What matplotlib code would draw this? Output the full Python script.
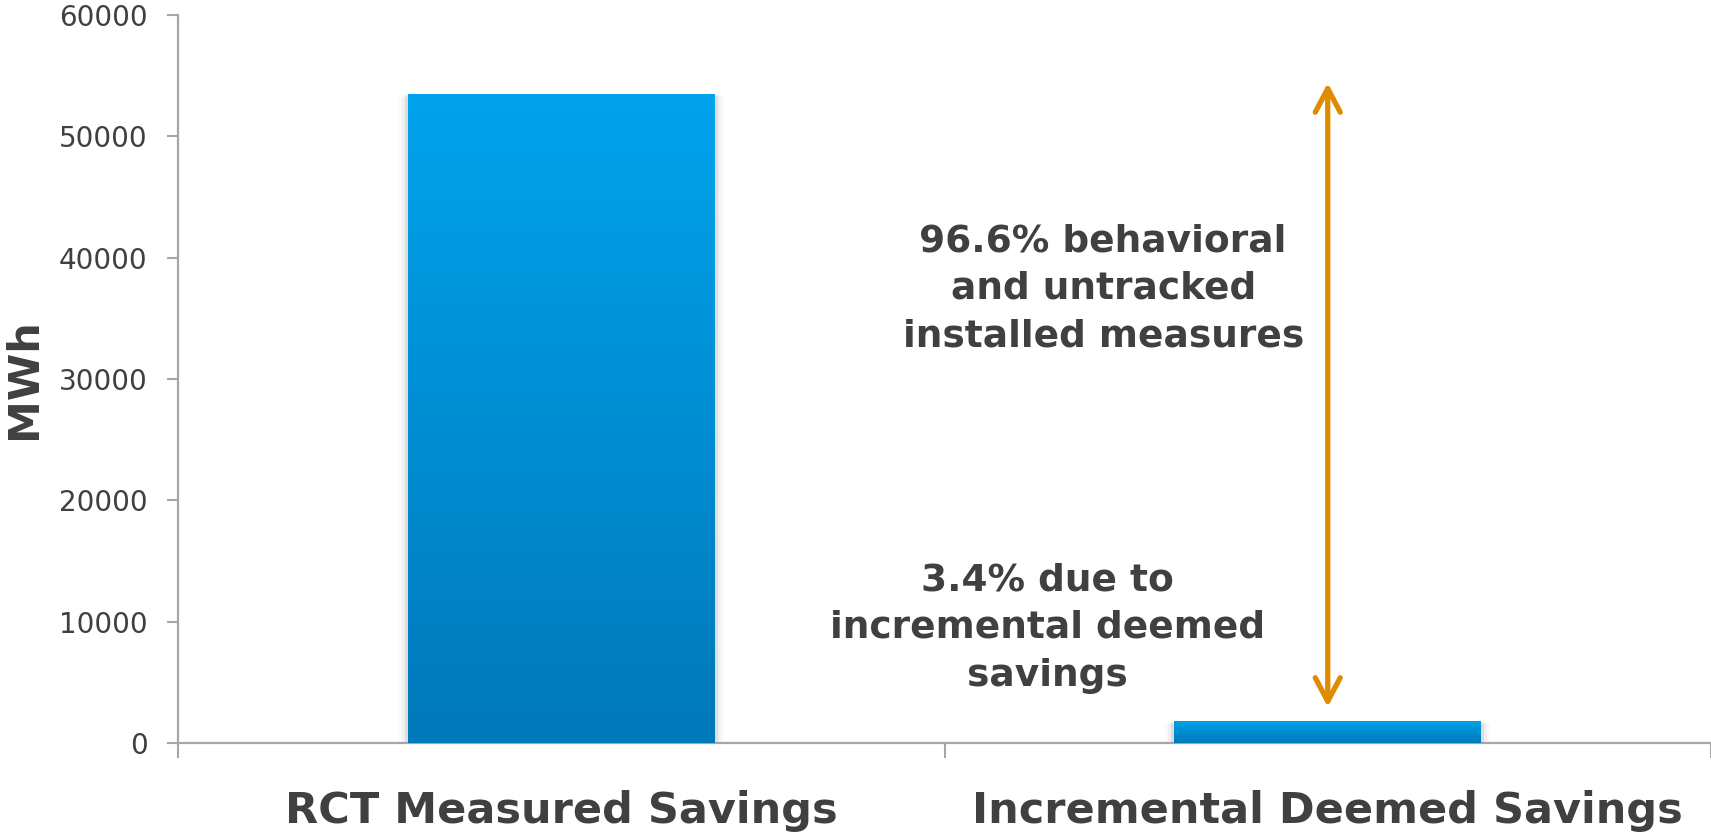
import numpy as np
import matplotlib
matplotlib.use("Agg")
import matplotlib.pyplot as plt
from matplotlib.patches import Rectangle

# data
categories = ["RCT Measured Savings", "Incremental Deemed Savings"]
savings_mwh = [53500, 1820]
y_ticks = [0, 10000, 20000, 30000, 40000, 50000, 60000]
note_top = "96.6% behavioral\nand untracked\ninstalled measures"
note_bottom = "3.4% due to\nincremental deemed\nsavings"

text_color = "#404040"
axis_color = "#A6A6A6"
arrow_color = "#E08A00"

fig = plt.figure(figsize=(17.11, 8.33), dpi=100)
ax = fig.add_axes([178 / 1711, 1 - 743 / 833, 1 - 178 / 1711, (743 - 15) / 833])

x = np.arange(len(categories)) + 0.5
bars = ax.bar(x, savings_mwh, width=0.4, color="none", zorder=3)

# vertical gradient fill, clipped to each bar, with a soft shadow on the sides
grad = np.linspace(0, 1, 256).reshape(-1, 1)
cmap = matplotlib.colors.LinearSegmentedColormap.from_list("bar", ["#0079BA", "#00A3EC"])
for b in bars:
    x0, y0 = b.get_x(), b.get_y()
    w, h = b.get_width(), b.get_height()
    for k, a in enumerate([0.07, 0.04, 0.02]):
        d = 0.004 * (k + 1)
        ax.add_patch(Rectangle((x0 - d, y0), w + 2 * d, h - 80 * (k + 1),
                               color="#000000", alpha=a, lw=0, zorder=2))
    im = ax.imshow(grad, extent=(x0, x0 + w, y0, y0 + h), origin="lower",
                   cmap=cmap, aspect="auto", zorder=3)
    im.set_clip_path(b)

ax.set_xlim(0, 2)
ax.set_ylim(0, 60000)

# y axis
ax.set_yticks(y_ticks)
ax.set_yticklabels([str(v) for v in y_ticks])
ax.tick_params(axis="y", direction="out", length=8, width=1.5, color=axis_color,
               labelsize=20, labelcolor=text_color, pad=14)
ax.set_ylabel("MWh", fontsize=31, fontweight="bold", color=text_color, labelpad=10)

# x axis: boundary ticks as major, category labels as minor
ax.set_xticks([0, 1, 2])
ax.set_xticklabels([])
ax.tick_params(axis="x", which="major", direction="out", length=11, width=1.5,
               color=axis_color)
ax.set_xticks(x, minor=True)
ax.set_xticklabels(categories, minor=True, fontsize=31, fontweight="bold",
                   color=text_color)
ax.tick_params(axis="x", which="minor", length=0, pad=34)

for s in ["top", "right"]:
    ax.spines[s].set_visible(False)
for s in ["left", "bottom"]:
    ax.spines[s].set_color(axis_color)
    ax.spines[s].set_linewidth(1.6)

# double-headed arrow over the small bar
ax.annotate("", xy=(x[1], 2970), xytext=(x[1], 54400),
            arrowprops=dict(arrowstyle="<->,head_length=1.7,head_width=0.9",
                            color=arrow_color, lw=3.8, capstyle="round",
                            joinstyle="round", shrinkA=0, shrinkB=0),
            zorder=4)

ax.text(1.207, 37420, note_top, ha="center", va="center", fontsize=27,
        fontweight="bold", color=text_color, linespacing=1.42)
ax.text(1.134, 9480, note_bottom, ha="center", va="center", fontsize=27,
        fontweight="bold", color=text_color, linespacing=1.42)

fig.savefig("out.png", dpi=100)
